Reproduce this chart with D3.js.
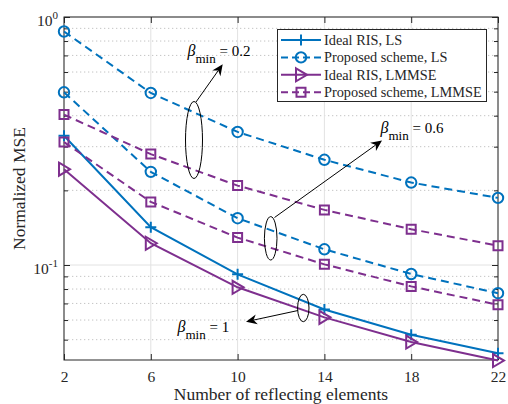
<!DOCTYPE html>
<html><head><meta charset="utf-8">
<script src="https://cdn.jsdelivr.net/npm/d3@7"></script>
<style>
body{margin:0;background:#fff}
svg{display:block;font-family:"Liberation Serif","Times New Roman",serif}
</style>
</head><body>
<svg id="c" width="508" height="404"></svg>
<script>
// ---- data ----
const elements = [2, 6, 10, 14, 18, 22];
const idealLS = [0.332, 0.142, 0.0917, 0.0662, 0.0523, 0.0441];
const proposedLS_b02 = [0.874, 0.494, 0.344, 0.2656, 0.215, 0.1865];
const proposedLS_b06 = [0.497, 0.2375, 0.1544, 0.1157, 0.092, 0.077];
const idealLMMSE = [0.2435, 0.1224, 0.0813, 0.0615, 0.0489, 0.0412];
const proposedLMMSE_b02 = [0.404, 0.280, 0.209, 0.1668, 0.1394, 0.1197];
const proposedLMMSE_b06 = [0.313, 0.1797, 0.129, 0.1006, 0.082, 0.0691];
const legendLabels = ["Ideal RIS, LS", "Proposed scheme, LS", "Ideal RIS, LMMSE", "Proposed scheme, LMMSE"];
const xTickValues = [2, 6, 10, 14, 18, 22];
const yMajorTicks = [0.1, 1];
const yMajorExp = ["-1", "0"];
const yMinorTicks = [0.05, 0.06, 0.07, 0.08, 0.09, 0.2, 0.3, 0.4, 0.5, 0.6, 0.7, 0.8, 0.9];

// ---- layout ----
const L = 64, R = 498, T = 17, B = 360;
const BLUE = "#0072BD", PURPLE = "#7E2F8E", INK = "#262626";
const svg = d3.select("#c");
const x = d3.scaleLinear().domain([2, 22]).range([L, R]);
const y = d3.scaleLog().domain([0.0414, 1]).range([B, T]);

// grid
const g = svg.append("g");
g.selectAll(".mg").data(yMinorTicks).join("line")
  .attr("x1", L).attr("x2", R).attr("y1", d => y(d)).attr("y2", d => y(d))
  .attr("stroke", "#c4c4c4").attr("stroke-width", 1).attr("stroke-dasharray", "1.3,2.7");
g.selectAll(".xg").data(xTickValues).join("line")
  .attr("x1", d => x(d)).attr("x2", d => x(d)).attr("y1", T).attr("y2", B)
  .attr("stroke", "#e2e2e2").attr("stroke-width", 1);
g.selectAll(".yg").data(yMajorTicks).join("line")
  .attr("x1", L).attr("x2", R).attr("y1", d => y(d)).attr("y2", d => y(d))
  .attr("stroke", "#e2e2e2").attr("stroke-width", 1);

// axes
function strip(sel){ sel.select(".domain").remove(); sel.selectAll("line").attr("stroke", INK); }
const xb = svg.append("g").attr("transform", `translate(0,${B})`)
  .call(d3.axisBottom(x).tickValues(xTickValues).tickSizeInner(-6).tickSizeOuter(0).tickPadding(10.5).tickFormat(d3.format("d")));
strip(xb);
xb.selectAll("text").attr("font-size", "15.5px").attr("fill", INK).attr("font-family", "Liberation Serif");
const xt = svg.append("g").attr("transform", `translate(0,${T})`)
  .call(d3.axisTop(x).tickValues(xTickValues).tickSizeInner(-6).tickSizeOuter(0).tickFormat(""));
strip(xt);
const yl = svg.append("g").attr("transform", `translate(${L},0)`)
  .call(d3.axisLeft(y).tickValues(yMajorTicks).tickSizeInner(-6).tickSizeOuter(0).tickPadding(6).tickFormat(""));
strip(yl);
yl.selectAll("text").each(function(d, i){
  const t = d3.select(this).attr("dy", null).attr("y", 8.5).attr("font-size", "15.5px").attr("fill", INK).attr("font-family", "Liberation Serif");
  t.text(null);
  t.append("tspan").text("10");
  t.append("tspan").attr("font-size", "11px").attr("dy", -7).text(yMajorExp[yMajorTicks.indexOf(d)]);
});
const ylm = svg.append("g").attr("transform", `translate(${L},0)`)
  .call(d3.axisLeft(y).tickValues(yMinorTicks).tickSizeInner(-4).tickSizeOuter(0).tickFormat(""));
strip(ylm);
const yr = svg.append("g").attr("transform", `translate(${R},0)`)
  .call(d3.axisRight(y).tickValues(yMajorTicks).tickSizeInner(-6).tickSizeOuter(0).tickFormat(""));
strip(yr);
const yrm = svg.append("g").attr("transform", `translate(${R},0)`)
  .call(d3.axisRight(y).tickValues(yMinorTicks).tickSizeInner(-4).tickSizeOuter(0).tickFormat(""));
strip(yrm);
svg.append("rect").attr("x", L).attr("y", T).attr("width", R - L).attr("height", B - T)
  .attr("fill", "none").attr("stroke", INK).attr("stroke-width", 1);

// labels
svg.append("text").attr("x", (L + R) / 2).attr("y", 399.5).attr("text-anchor", "middle")
  .attr("font-size", "17.5px").attr("fill", INK).text("Number of reflecting elements");
svg.append("text").attr("transform", `translate(24.5,${(T + B) / 2}) rotate(-90)`).attr("text-anchor", "middle")
  .attr("font-size", "17.5px").attr("fill", INK).text("Normalized MSE");

// markers
const markerPaths = {
  plus: "M-5.5,0H5.5M0,-5.5V5.5",
  tri: "M-5,-6.5L6,0L-5,6.5Z",
  sq: "M-4.5,-4.5H4.5V4.5H-4.5Z"
};
function drawMarker(sel, type, color){
  if (type === "circ") {
    sel.append("circle").attr("r", 5.2).attr("fill", "none").attr("stroke", color).attr("stroke-width", 2);
  } else {
    sel.append("path").attr("d", markerPaths[type]).attr("fill", "none").attr("stroke", color).attr("stroke-width", 2);
  }
}
const series = [
  {vals: idealLS, color: BLUE, dash: null, marker: "plus"},
  {vals: proposedLS_b02, color: BLUE, dash: "8,5", marker: "circ"},
  {vals: proposedLS_b06, color: BLUE, dash: "8,5", marker: "circ"},
  {vals: idealLMMSE, color: PURPLE, dash: null, marker: "tri"},
  {vals: proposedLMMSE_b02, color: PURPLE, dash: "8,5", marker: "sq"},
  {vals: proposedLMMSE_b06, color: PURPLE, dash: "8,5", marker: "sq"}
];
const line = d3.line().x(d => x(d[0])).y(d => y(d[1]));
series.forEach(s => {
  const pts = elements.map((e, i) => [e, s.vals[i]]);
  svg.append("path").attr("d", line(pts)).attr("fill", "none").attr("stroke", s.color)
    .attr("stroke-width", 2).attr("stroke-dasharray", s.dash);
  svg.append("g").selectAll("g").data(pts).join("g")
    .attr("transform", d => `translate(${x(d[0])},${y(d[1])})`)
    .each(function(){ drawMarker(d3.select(this), s.marker, s.color); });
});

// legend
const leg = svg.append("g");
leg.append("rect").attr("x", 277.5).attr("y", 29.5).attr("width", 209).attr("height", 72)
  .attr("fill", "#fff").attr("stroke", INK).attr("stroke-width", 1);
const legItems = [
  {color: BLUE, dash: null, marker: "plus"},
  {color: BLUE, dash: "7,4", marker: "circ"},
  {color: PURPLE, dash: null, marker: "tri"},
  {color: PURPLE, dash: "7,4", marker: "sq"}
];
legItems.forEach((it, i) => {
  const yy = 40 + i * 17.4;
  leg.append("line").attr("x1", 281).attr("x2", 321).attr("y1", yy).attr("y2", yy)
    .attr("stroke", it.color).attr("stroke-width", 2).attr("stroke-dasharray", it.dash);
  const mg = leg.append("g").attr("transform", `translate(301,${yy})`);
  drawMarker(mg, it.marker, it.color);
  leg.append("text").attr("x", 324).attr("y", yy + 5).attr("font-size", "14.3px").attr("fill", INK).text(legendLabels[i]);
});

// annotations
function ellipse(cx, cy, rx, ry){
  svg.append("ellipse").attr("cx", cx).attr("cy", cy).attr("rx", rx).attr("ry", ry)
    .attr("fill", "none").attr("stroke", "#000").attr("stroke-width", 1);
}
function arrow(x1, y1, x2, y2){
  const dx = x2 - x1, dy = y2 - y1, len = Math.hypot(dx, dy), ux = dx / len, uy = dy / len;
  const hl = 11, hw = 5;
  const bx = x2 - ux * hl, by = y2 - uy * hl;
  const nx = x2 - ux * hl * 0.7, ny = y2 - uy * hl * 0.7;
  svg.append("line").attr("x1", x1).attr("y1", y1).attr("x2", nx).attr("y2", ny).attr("stroke", "#000").attr("stroke-width", 1);
  svg.append("path").attr("d", `M${x2},${y2}L${bx - uy * hw},${by + ux * hw}L${nx},${ny}L${bx + uy * hw},${by - ux * hw}Z`).attr("fill", "#000");
}
function betaLabel(x0, yb, val){
  const t = svg.append("text").attr("x", x0).attr("y", yb).attr("fill", "#000");
  t.append("tspan").attr("font-style", "italic").attr("font-size", "16px").text("β");
  t.append("tspan").attr("font-size", "13px").attr("dy", 7).text("min");
  t.append("tspan").attr("font-size", "15px").attr("dy", -7).text(" = " + val);
}
ellipse(194, 140, 8.5, 38.5);
arrow(196, 102, 222.7, 64.3);
betaLabel(187.5, 55.5, "0.2");
ellipse(270.7, 238.3, 6.3, 21.7);
arrow(274.5, 217.5, 382, 140.5);
betaLabel(380.5, 133, "0.6");
ellipse(303.3, 308, 5.7, 13.7);
arrow(298, 310.5, 246, 321.7);
betaLabel(177.5, 332, "1");
</script>
</body></html>
